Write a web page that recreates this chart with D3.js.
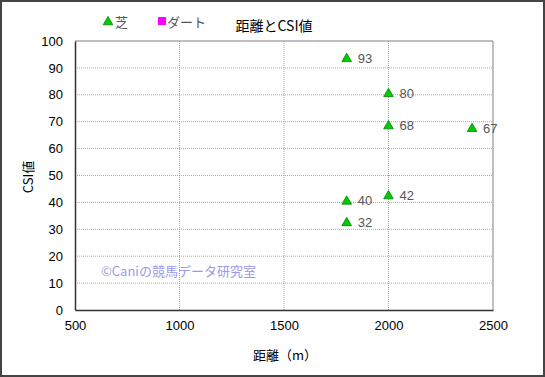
<!DOCTYPE html>
<html>
<head>
<meta charset="utf-8">
<script src="https://cdn.jsdelivr.net/npm/d3@7"></script>
<style>
  body { margin: 0; background: #fff; }
  svg { display: block; }
  text { font-family: "Liberation Sans", Arial, "Noto Sans CJK JP", sans-serif; }
  .jp { font-family: "Noto Sans CJK JP", sans-serif; }
</style>
</head>
<body>
<svg id="chart"></svg>
<script>
// data
const distances = [1800, 2000, 2000, 2400, 1800, 2000, 1800];
const csiValues = [93, 80, 68, 67, 40, 42, 32];
const xTicks = [500, 1000, 1500, 2000, 2500];
const yTicks = [0, 10, 20, 30, 40, 50, 60, 70, 80, 90, 100];
const legendNames = ["芝", "ダート"];
const legendColors = ["#00cc00", "#ff00ff"];

const width = 545;
const height = 377;
const margin = { left: 75, right: 52, top: 41, bottom: 67 };

const svg = d3.select("#chart").attr("width", width).attr("height", height);

// outer frame
svg.append("rect")
  .attr("x", 1).attr("y", 1)
  .attr("width", width - 2).attr("height", height - 2)
  .attr("fill", "#fff")
  .attr("stroke", "#444")
  .attr("stroke-width", 2);

const x = d3.scaleLinear().domain([500, 2500]).range([margin.left, width - margin.right]);
const y = d3.scaleLinear().domain([0, 100]).range([height - margin.bottom, margin.top]);

// grid lines (dotted)
svg.append("g")
  .selectAll("line")
  .data(xTicks.slice(1, -1))
  .enter()
  .append("line")
  .attr("x1", d => x(d)).attr("x2", d => x(d))
  .attr("y1", y(0)).attr("y2", y(100))
  .attr("stroke", "#a8a8a8")
  .attr("stroke-dasharray", "1,1");

svg.append("g")
  .selectAll("line")
  .data(yTicks.slice(1, -1))
  .enter()
  .append("line")
  .attr("x1", x(500)).attr("x2", x(2500))
  .attr("y1", d => y(d)).attr("y2", d => y(d))
  .attr("stroke", "#a8a8a8")
  .attr("stroke-dasharray", "1,1");

// plot frame: top/right lighter, left/bottom darker
svg.append("line")
  .attr("x1", x(500)).attr("x2", x(2500)).attr("y1", y(100)).attr("y2", y(100))
  .attr("stroke", "#808080");
svg.append("line")
  .attr("x1", x(2500)).attr("x2", x(2500)).attr("y1", y(100)).attr("y2", y(0))
  .attr("stroke", "#808080");

// axes
const xAxis = svg.append("g")
  .attr("transform", `translate(0,${y(0)})`)
  .call(d3.axisBottom(x).tickValues(xTicks).tickSize(0).tickPadding(11).tickFormat(d3.format("d")));
xAxis.select(".domain").attr("stroke", "#333").attr("stroke-width", 1.5);
xAxis.selectAll("text").attr("font-size", 13).attr("fill", "#000")
  .style("font-family", "'Liberation Sans', Arial, sans-serif");

const yAxis = svg.append("g")
  .attr("transform", `translate(${x(500)},0)`)
  .call(d3.axisLeft(y).tickValues(yTicks).tickSize(0).tickPadding(12));
yAxis.select(".domain").attr("stroke", "#333").attr("stroke-width", 1.5);
yAxis.selectAll("text").attr("font-size", 13).attr("fill", "#000")
  .style("font-family", "'Liberation Sans', Arial, sans-serif");

// axis titles
svg.append("text")
  .attr("class", "jp")
  .attr("x", 285).attr("y", 360)
  .attr("text-anchor", "middle")
  .attr("font-size", 13)
  .text("距離（m）");

svg.append("text")
  .attr("class", "jp")
  .attr("transform", "translate(33,177) rotate(-90)")
  .attr("text-anchor", "middle")
  .attr("font-size", 13)
  .text("CSI値");

// title
svg.append("text")
  .attr("class", "jp")
  .attr("x", 274).attr("y", 31)
  .attr("text-anchor", "middle")
  .attr("font-size", 14)
  .text("距離とCSI値");

// legend
const tri = d3.symbol().type(d3.symbolTriangle).size(40);
const legend = svg.append("g");
legend.append("path")
  .attr("d", tri)
  .attr("transform", "translate(108,22)")
  .attr("fill", legendColors[0])
  .attr("stroke", "#008000")
  .attr("stroke-width", 0.8);
legend.append("text")
  .attr("class", "jp")
  .attr("x", 115).attr("y", 27)
  .attr("font-size", 13)
  .attr("fill", "#555")
  .text(legendNames[0]);
legend.append("rect")
  .attr("x", 158).attr("y", 17)
  .attr("width", 8).attr("height", 8)
  .attr("fill", legendColors[1]);
legend.append("text")
  .attr("class", "jp")
  .attr("x", 167).attr("y", 27)
  .attr("font-size", 13)
  .attr("fill", "#555")
  .text(legendNames[1]);

// watermark
svg.append("text")
  .attr("class", "jp")
  .attr("x", 101).attr("y", 276)
  .attr("font-size", 13)
  .attr("fill", "#9a9ae8")
  .text("©Caniの競馬データ研究室");

// points
const points = distances.map((d, i) => ({ dist: d, csi: csiValues[i] }));

svg.append("g")
  .selectAll("path")
  .data(points)
  .enter()
  .append("path")
  .attr("d", tri)
  .attr("transform", d => `translate(${x(d.dist)},${y(d.csi) - 1})`)
  .attr("fill", legendColors[0])
  .attr("stroke", "#008000")
  .attr("stroke-width", 0.8);

svg.append("g")
  .selectAll("text")
  .data(points)
  .enter()
  .append("text")
  .attr("x", d => x(d.dist) + 11)
  .attr("y", d => y(d.csi) + 3)
  .attr("font-size", 13)
  .attr("fill", "#555")
  .text(d => d.csi);
</script>
</body>
</html>
